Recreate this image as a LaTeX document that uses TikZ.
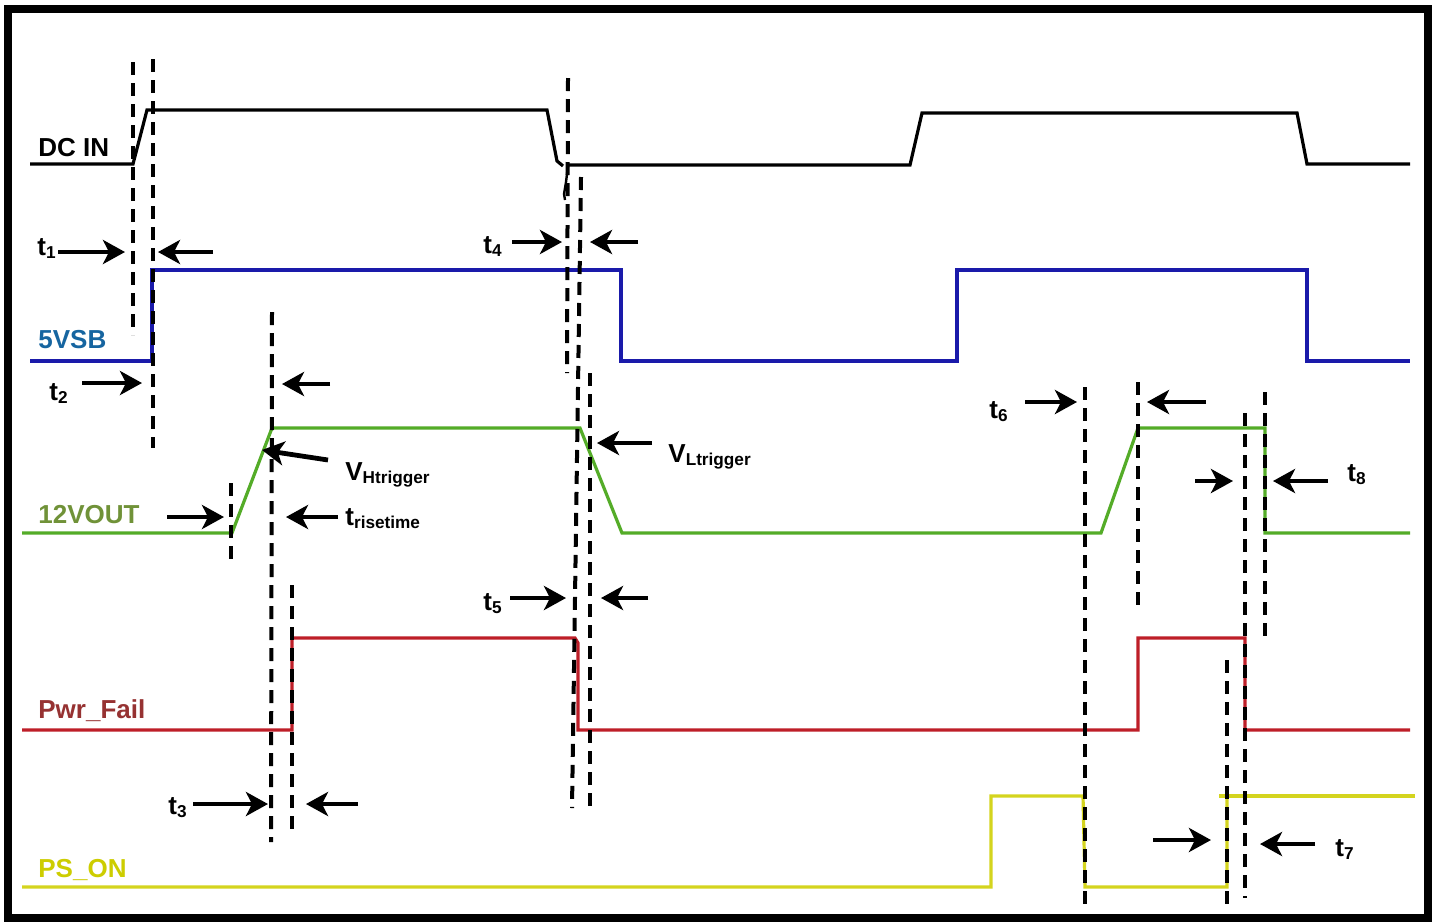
\documentclass[tikz,border=0pt]{standalone}
\usepackage{fontspec}
\setmainfont{Liberation Sans}
\usetikzlibrary{arrows.meta}
\definecolor{cvsbl}{RGB}{22,101,160}
\definecolor{cvsb}{RGB}{26,26,170}
\definecolor{c12l}{RGB}{112,146,56}
\definecolor{c12}{RGB}{84,172,40}
\definecolor{cpfl}{RGB}{150,50,50}
\definecolor{cpf}{RGB}{190,30,40}
\definecolor{cpsl}{RGB}{205,205,0}
\definecolor{cps}{RGB}{212,212,30}
\newcommand{\tsub}[2]{#1\raisebox{-1.5pt}{\fontsize{8.6}{8.6}\selectfont #2}}
\begin{document}
\begin{tikzpicture}[x=0.5pt,y=-0.5pt,
  sig/.style={line width=1.6pt, line join=miter},
  vline/.style={line width=2pt, dash pattern=on 6.5pt off 4pt},
  arr/.style={line width=2.4pt, -{Stealth[length=11pt,width=12pt,inset=3pt]}},
  lbl/.style={inner sep=0pt, anchor=base west, font=\fontsize{13}{13}\selectfont\bfseries},
  tlbl/.style={inner sep=0pt, anchor=base west, font=\fontsize{13}{13}\selectfont\bfseries}]
\useasboundingbox (0,0) rectangle (1438,922);
\fill[white] (0,0) rectangle (1438,922);
\draw[line width=4pt] (8,9) rectangle (1428,918);

% signal labels
\node[lbl] (ldc) at (38,156) {DC IN};
\node[lbl, text=cvsbl] (lvsb) at (38,348) {5VSB};
\node[lbl, text=c12l] (l12) at (38,523) {12VOUT};
\node[lbl, text=cpfl] (lpf) at (38,718) {Pwr\_Fail};
\node[lbl, text=cpsl] (lps) at (38,877) {PS\_ON};

% DC IN
\draw[sig] (30,164) -- (133,164) -- (147,110) -- (547,110) -- (557,161) -- (563,166);
\draw[sig] (567,165) -- (910,165) -- (922,113) -- (1297,113) -- (1307,164) -- (1410,164);
\draw[line width=1.2pt] (568,166) -- (566,182) -- (564,194) -- (565,200);
% 5VSB
\draw[sig, cvsb] (30,361) -- (152,361) -- (152,270) -- (621,270) -- (621,361) -- (957,361) -- (957,270) -- (1307,270) -- (1307,361) -- (1410,361);
% 12VOUT
\draw[sig, c12] (22,533) -- (232,533) -- (272,428) -- (580,428) -- (622,533) -- (1101,533) -- (1138,428) -- (1265,428) -- (1265,533) -- (1410,533);
% Pwr_Fail
\draw[sig, cpf] (22,730) -- (292,730) -- (292,638) -- (575,638) -- (578,643) -- (578,730) -- (1138,730) -- (1138,638) -- (1245,638) -- (1245,730) -- (1410,730);
% PS_ON
\draw[sig, cps] (22,887) -- (991,887) -- (991,796) -- (1083,796) -- (1085,887) -- (1227,887) -- (1227,796);
\draw[sig, cps] (1219,796) -- (1415,796);

% dashed markers
\draw[vline] (133,62) -- (133,335);
\draw[vline] (153,59) -- (153,448);
\draw[vline] (231,483) -- (231,565);
\draw[vline] (272,312) -- (271,842);
\draw[vline] (292,585) -- (292,835);
\draw[vline] (568,78) -- (567,373);
\draw[vline] (581,177) -- (572,808);
\draw[vline] (590,373) -- (590,810);
\draw[vline] (1085,387) -- (1085,910);
\draw[vline] (1138,382) -- (1138,605);
\draw[vline] (1245,413) -- (1245,898);
\draw[vline] (1265,392) -- (1265,638);
\draw[vline] (1227,660) -- (1227,905);

% time labels
\node[tlbl] (t1) at (37,255) {\tsub{t}{1}};
\node[tlbl] (t2) at (49,400) {\tsub{t}{2}};
\node[tlbl] (t3) at (168,814) {\tsub{t}{3}};
\node[tlbl] (t4) at (483,253) {\tsub{t}{4}};
\node[tlbl] (t5) at (483,610) {\tsub{t}{5}};
\node[tlbl] (t6) at (989,418) {\tsub{t}{6}};
\node[tlbl] (t7) at (1335,856) {\tsub{t}{7}};
\node[tlbl] (t8) at (1347,481) {\tsub{t}{8}};
\node[tlbl] (vh) at (345,480) {\tsub{V}{Htrigger}};
\node[tlbl] (tr) at (345,525) {\tsub{t}{risetime}};
\node[tlbl] (vl) at (668,462) {\tsub{V}{Ltrigger}};

% arrows
\draw[arr] (58,252) -- (125,252);
\draw[arr] (213,252) -- (158,252);
\draw[arr] (512,242) -- (562,242);
\draw[arr] (638,242) -- (590,242);
\draw[arr] (82,383) -- (142,383);
\draw[arr] (330,384) -- (282,384);
\draw[arr] (167,517) -- (224,517);
\draw[arr] (338,517) -- (286,517);
\draw[arr] (328,460) -- (262,450);
\draw[arr] (652,443) -- (597,443);
\draw[arr] (510,598) -- (566,598);
\draw[arr] (648,598) -- (601,598);
\draw[arr] (193,804) -- (268,804);
\draw[arr] (358,804) -- (306,804);
\draw[arr] (1025,402) -- (1077,402);
\draw[arr] (1206,402) -- (1147,402);
\draw[arr] (1195,481) -- (1233,481);
\draw[arr] (1328,481) -- (1273,481);
\draw[arr] (1153,840) -- (1211,840);
\draw[arr] (1315,844) -- (1260,844);
\end{tikzpicture}
\end{document}
